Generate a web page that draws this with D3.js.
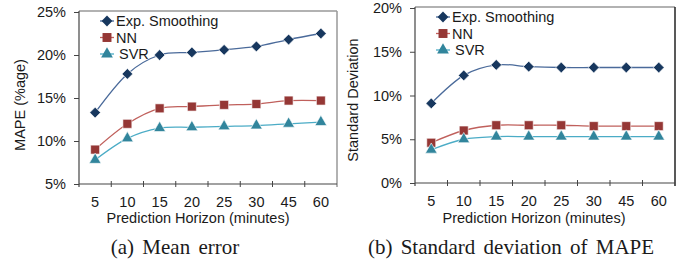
<!DOCTYPE html>
<html>
<head>
<meta charset="utf-8">
<script src="https://cdn.jsdelivr.net/npm/d3@7"></script>
<style>
  body { margin: 0; background: #fff; }
  svg { display: block; }
  text { font-family: "Liberation Sans", Arial, sans-serif; fill: #1a1a1a; }
  .caption { font-family: "Liberation Serif", "Times New Roman", serif; font-size: 21px; word-spacing: 3px; }
</style>
</head>
<body>
<svg id="chart" width="688" height="261"></svg>
<script>
// data
var horizons = ["5", "10", "15", "20", "25", "30", "45", "60"];
var seriesNames = ["Exp. Smoothing", "NN", "SVR"];

var expMape = [13.3, 17.8, 20.0, 20.3, 20.6, 21.0, 21.8, 22.5];
var nnMape  = [9.0, 12.0, 13.8, 14.0, 14.2, 14.3, 14.7, 14.7];
var svrMape = [7.8, 10.3, 11.5, 11.6, 11.7, 11.8, 12.0, 12.2];

var expStd = [9.1, 12.3, 13.5, 13.3, 13.2, 13.2, 13.2, 13.2];
var nnStd  = [4.6, 6.0, 6.6, 6.6, 6.6, 6.5, 6.5, 6.5];
var svrStd = [3.8, 5.0, 5.3, 5.3, 5.3, 5.3, 5.3, 5.3];

var mapeTicks = [5, 10, 15, 20, 25];
var stdTicks = [0, 5, 10, 15, 20];

var markerColors = ["#17375E", "#953735", "#31859C"];
var lineColors = ["#4A6A9A", "#C0605C", "#4BACC6"];
var markerShapes = [d3.symbolSquare, d3.symbolSquare, d3.symbolTriangle];
var markerSizes = [58, 80, 60];
var markerRotate = [45, 0, 0];

var svg = d3.select("#chart");

function drawPanel(opt) {
  var x = d3.scaleBand()
      .domain(horizons)
      .range([opt.left, opt.right]);
  var y = d3.scaleLinear()
      .domain(d3.extent(opt.ticks))
      .range([opt.bottom, opt.top]);

  var g = svg.append("g");

  // frame (top + right)
  g.append("line")
      .attr("x1", opt.left).attr("x2", opt.right)
      .attr("y1", opt.top - 1).attr("y2", opt.top - 1)
      .attr("stroke", "#666").attr("stroke-width", 1.2);
  g.append("line")
      .attr("x1", opt.right).attr("x2", opt.right)
      .attr("y1", opt.top - 1).attr("y2", opt.bottom + 3)
      .attr("stroke", opt.frameColor).attr("stroke-width", 1.5);

  // y axis
  var yAxis = d3.axisLeft(y)
      .tickValues(opt.ticks)
      .tickSize(5)
      .tickSizeOuter(0)
      .tickPadding(8)
      .tickFormat(function(d) { return d + "%"; });
  var ya = g.append("g")
      .attr("transform", "translate(" + opt.left + ",0)")
      .call(yAxis);
  ya.select(".domain").attr("stroke", "#444").attr("stroke-width", 1.2)
      .attr("d", "M0," + (opt.top - 1) + "V" + (opt.bottom + 3));
  ya.selectAll(".tick line").attr("stroke", "#444");
  ya.selectAll("text").style("font-size", "14.5px").attr("fill", "#1a1a1a");

  // x axis: labels at band centres, ticks at band edges
  var xAxis = d3.axisBottom(x).tickSize(0).tickPadding(13);
  var xa = g.append("g")
      .attr("transform", "translate(0," + opt.bottom + ")")
      .call(xAxis);
  xa.select(".domain").attr("stroke", "#444").attr("stroke-width", 1.2)
      .attr("d", "M" + opt.left + ",0H" + opt.right);
  xa.selectAll("text").style("font-size", "14.5px").attr("fill", "#1a1a1a");
  g.selectAll(".xedge")
      .data(horizons.slice(1))
    .enter().append("line")
      .attr("class", "xedge")
      .attr("x1", function(d) { return x(d); })
      .attr("x2", function(d) { return x(d); })
      .attr("y1", opt.bottom - 3)
      .attr("y2", opt.bottom + 3)
      .attr("stroke", "#444");

  // axis titles
  g.append("text")
      .attr("x", opt.xTitleX)
      .attr("y", 223)
      .attr("text-anchor", "middle")
      .style("font-size", "14.5px")
      .text("Prediction Horizon (minutes)");
  g.append("text")
      .attr("transform", "translate(" + opt.yTitleX + "," + opt.yTitleY + ") rotate(-90)")
      .attr("text-anchor", "middle")
      .style("font-size", "14.5px")
      .text(opt.yTitle);

  // lines + markers
  var line = d3.line()
      .x(function(d, i) { return x(horizons[i]) + x.bandwidth() / 2; })
      .y(function(d) { return y(d); })
      .curve(d3.curveCatmullRom.alpha(0));

  opt.series.forEach(function(vals, s) {
    g.append("path")
        .datum(vals)
        .attr("d", line)
        .attr("fill", "none")
        .attr("stroke", lineColors[s])
        .attr("stroke-width", 1.3);
    g.selectAll(".m" + s)
        .data(vals)
      .enter().append("path")
        .attr("class", "m" + s)
        .attr("transform", function(d, i) {
          return "translate(" + (x(horizons[i]) + x.bandwidth() / 2) + "," + y(d) + ") rotate(" + markerRotate[s] + ")";
        })
        .attr("d", d3.symbol().type(markerShapes[s]).size(markerSizes[s]))
        .attr("fill", markerColors[s])
        .attr("stroke", "#fff")
        .attr("stroke-width", 0.6);
  });

  // legend
  var legend = g.selectAll(".legend")
      .data(seriesNames)
    .enter().append("g")
      .attr("class", "legend")
      .attr("transform", function(d, i) {
        return "translate(" + opt.legendX + "," + (opt.legendY + i * 16.5) + ")";
      });
  legend.append("line")
      .attr("x1", -7).attr("x2", 7)
      .attr("stroke", function(d, i) { return lineColors[i]; })
      .attr("stroke-width", 1.3);
  legend.append("path")
      .attr("transform", function(d, i) { return "rotate(" + markerRotate[i] + ")"; })
      .attr("d", function(d, i) { return d3.symbol().type(markerShapes[i]).size(markerSizes[i])(); })
      .attr("fill", function(d, i) { return markerColors[i]; });
  legend.append("text")
      .attr("x", function(d, i) { return i === 2 ? 12 : 9; })
      .attr("dy", "0.35em")
      .style("font-size", "14.5px")
      .text(function(d) { return d; });

  // caption
  g.append("text")
      .attr("class", "caption")
      .attr("x", opt.captionX)
      .attr("y", 254)
      .attr("text-anchor", "middle")
      .text(opt.caption);
}

drawPanel({
  left: 79, right: 337, top: 12, bottom: 184,
  ticks: mapeTicks,
  series: [expMape, nnMape, svrMape],
  frameColor: "#999",
  yTitle: "MAPE (%age)", yTitleX: 25, yTitleY: 105,
  xTitleX: 198,
  legendX: 107, legendY: 21,
  caption: "(a) Mean error", captionX: 175
});

drawPanel({
  left: 415, right: 675, top: 8, bottom: 183,
  ticks: stdTicks,
  series: [expStd, nnStd, svrStd],
  frameColor: "#222",
  yTitle: "Standard Deviation", yTitleX: 358, yTitleY: 100,
  xTitleX: 534,
  legendX: 443, legendY: 17,
  caption: "(b) Standard deviation of MAPE", captionX: 511
});
</script>
</body>
</html>
